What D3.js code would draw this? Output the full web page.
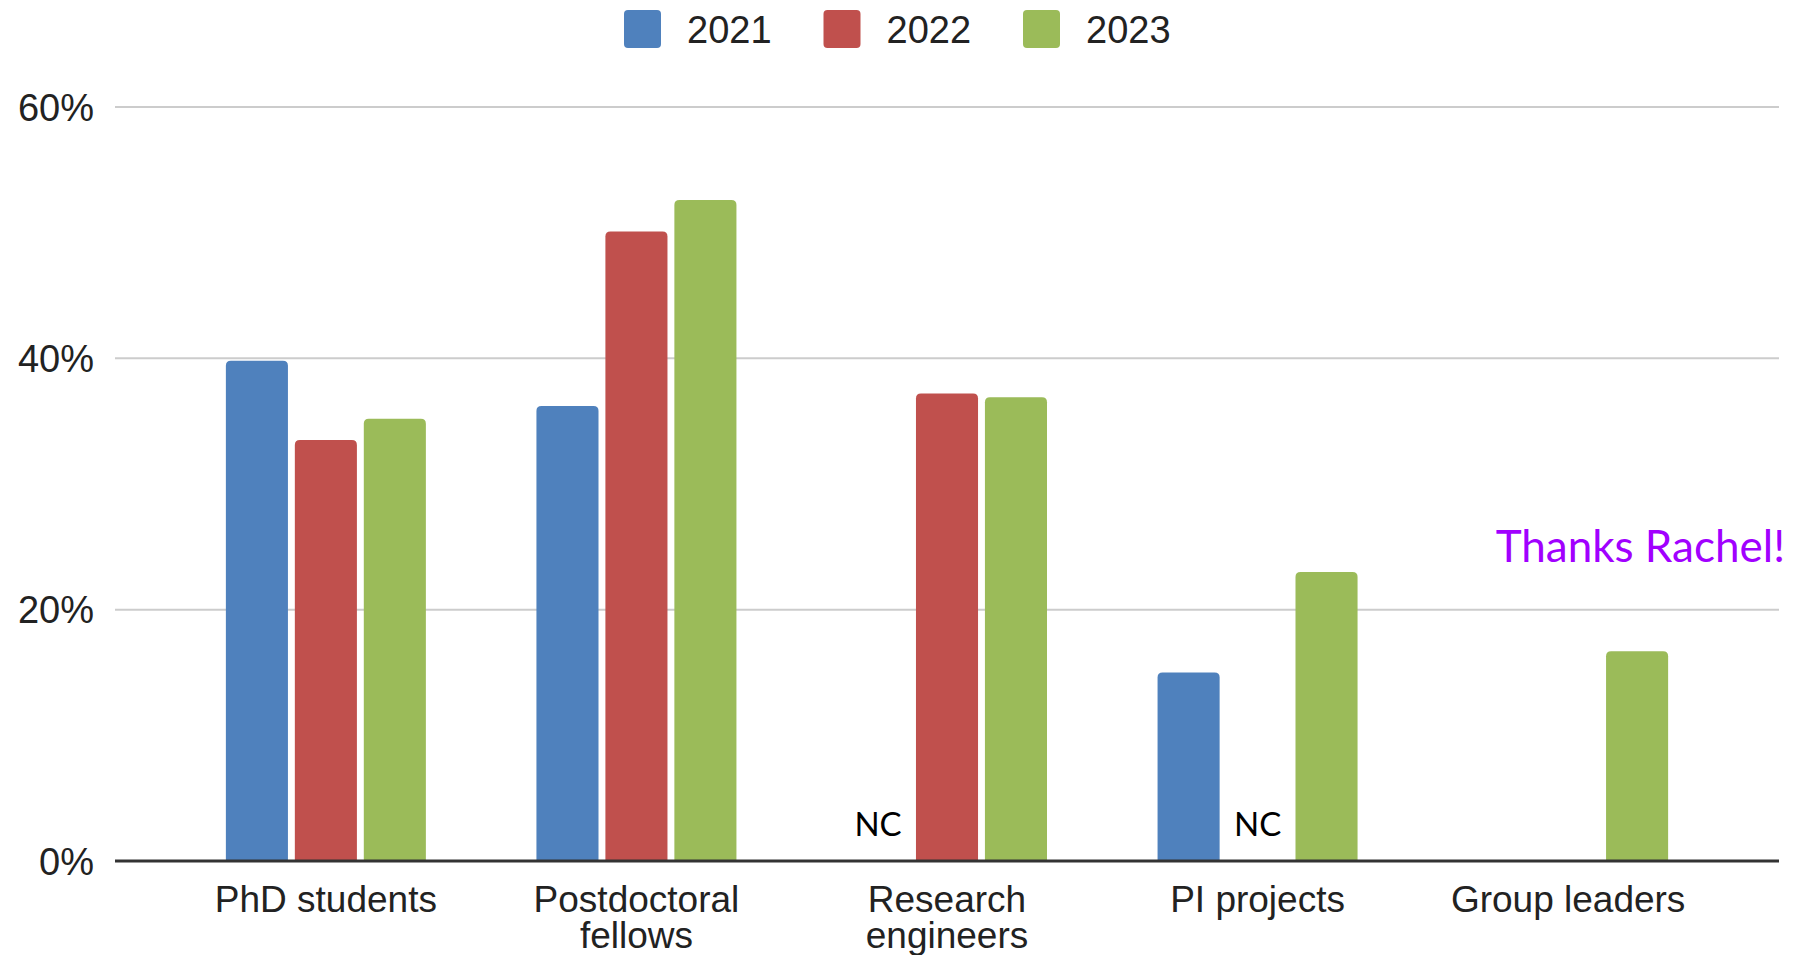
<!DOCTYPE html>
<html>
<head>
<meta charset="utf-8">
<script src="https://cdn.jsdelivr.net/npm/d3@7"></script>
<style>
  body { margin: 0; background: #fff; }
  svg { display: block; }
</style>
</head>
<body>
<div id="chart-area"></div>
<script>
var categories = [["PhD students"], ["Postdoctoral", "fellows"], ["Research", "engineers"], ["PI projects"], ["Group leaders"]];
var years = ["2021", "2022", "2023"];
// null = not collected
var values2021 = [39.8, 36.2, null, 15.0, null];
var values2022 = [33.5, 50.1, 37.2, null, null];
var values2023 = [35.2, 52.6, 36.9, 23.0, 16.7];
var ncLabels = [[2, "2021"], [3, "2022"]];
var yTicks = [0, 20, 40, 60];
var colors = ["#4F81BD", "#C0504D", "#9BBB59"];

var width = 1808, height = 955;
var margin = { left: 115, right: 29, top: 107, bottom: 94 };

var svg = d3.select("#chart-area").append("svg")
    .attr("width", width)
    .attr("height", height);

var catKeys = categories.map(function (d) { return d.join(" "); });
var series = [values2021, values2022, values2023];

var x0 = d3.scaleBand()
    .domain(catKeys)
    .range([margin.left, width - margin.right])
    .paddingInner(0.356)
    .paddingOuter(0.357);

var x1 = d3.scaleBand()
    .domain(years)
    .range([0, x0.bandwidth()])
    .paddingInner(0.1);

var y = d3.scaleLinear()
    .domain([0, 60])
    .range([height - margin.bottom, margin.top]);

var color = d3.scaleOrdinal().domain(years).range(colors);

// gridlines
svg.append("g").selectAll("line")
    .data(yTicks.filter(function (d) { return d > 0; }))
    .enter().append("line")
    .attr("x1", margin.left)
    .attr("x2", width - margin.right)
    .attr("y1", function (d) { return y(d); })
    .attr("y2", function (d) { return y(d); })
    .attr("stroke", "#cccccc")
    .attr("stroke-width", 2);

// y tick labels
svg.append("g").selectAll("text")
    .data(yTicks)
    .enter().append("text")
    .attr("x", margin.left - 21)
    .attr("y", function (d) { return y(d); })
    .attr("dy", "0.36em")
    .attr("text-anchor", "end")
    .style("font-family", "'Liberation Sans', Arial, sans-serif")
    .style("font-size", "38px")
    .style("fill", "#222")
    .text(function (d) { return d + "%"; });

function roundedTop(x, yTop, w, h, r) {
    r = Math.min(r, h, w / 2);
    return "M" + x + "," + (yTop + h) +
        "V" + (yTop + r) +
        "Q" + x + "," + yTop + " " + (x + r) + "," + yTop +
        "H" + (x + w - r) +
        "Q" + (x + w) + "," + yTop + " " + (x + w) + "," + (yTop + r) +
        "V" + (yTop + h) + "Z";
}

// bars
var rows = [];
catKeys.forEach(function (c, i) {
    years.forEach(function (yr, j) {
        if (series[j][i] != null) rows.push({ cat: c, year: yr, value: series[j][i] });
    });
});

svg.append("g").selectAll("path")
    .data(rows)
    .enter().append("path")
    .attr("d", function (d) {
        var bx = x0(d.cat) + x1(d.year);
        return roundedTop(bx, y(d.value), x1.bandwidth(), y(0) - y(d.value), 5);
    })
    .attr("fill", function (d) { return color(d.year); });

// baseline
svg.append("line")
    .attr("x1", margin.left)
    .attr("x2", width - margin.right)
    .attr("y1", y(0))
    .attr("y2", y(0))
    .attr("stroke", "#333")
    .attr("stroke-width", 3);

// NC labels
svg.append("g").selectAll("text")
    .data(ncLabels)
    .enter().append("text")
    .attr("x", function (d) { return x0(catKeys[d[0]]) + x1(d[1]) + x1.bandwidth() / 2; })
    .attr("y", y(0) - 25)
    .attr("text-anchor", "middle")
    .style("font-family", "Lato, 'Open Sans', sans-serif")
    .style("font-size", "33px")
    .style("fill", "#000")
    .text("NC");

// category labels
var catLabels = svg.append("g").selectAll("text")
    .data(categories)
    .enter().append("text")
    .attr("x", function (d, i) { return x0(catKeys[i]) + x0.bandwidth() / 2; })
    .attr("y", y(0) + 51)
    .attr("text-anchor", "middle")
    .style("font-family", "'Liberation Sans', Arial, sans-serif")
    .style("font-size", "37px")
    .style("fill", "#222");

catLabels.selectAll("tspan")
    .data(function (d) { return d; })
    .enter().append("tspan")
    .attr("x", function () { return d3.select(this.parentNode).attr("x"); })
    .attr("dy", function (d, i) { return i === 0 ? 0 : 36; })
    .text(function (d) { return d; });

// legend
var legend = svg.append("g").attr("transform", "translate(624,10)");
var item = legend.selectAll("g")
    .data(years)
    .enter().append("g")
    .attr("transform", function (d, i) { return "translate(" + i * 199.5 + ",0)"; });

item.append("rect")
    .attr("width", 37)
    .attr("height", 38)
    .attr("rx", 4)
    .attr("fill", function (d) { return color(d); });

item.append("text")
    .attr("x", 63)
    .attr("y", 33)
    .style("font-family", "'Liberation Sans', Arial, sans-serif")
    .style("font-size", "38px")
    .style("fill", "#222")
    .text(function (d) { return d; });

// annotation
svg.append("text")
    .attr("x", 1785)
    .attr("y", 562)
    .attr("text-anchor", "end")
    .style("font-family", "Lato, 'Open Sans', sans-serif")
    .style("font-size", "44px")
    .style("fill", "#A100FF")
    .text("Thanks Rachel!");
</script>
</body>
</html>
